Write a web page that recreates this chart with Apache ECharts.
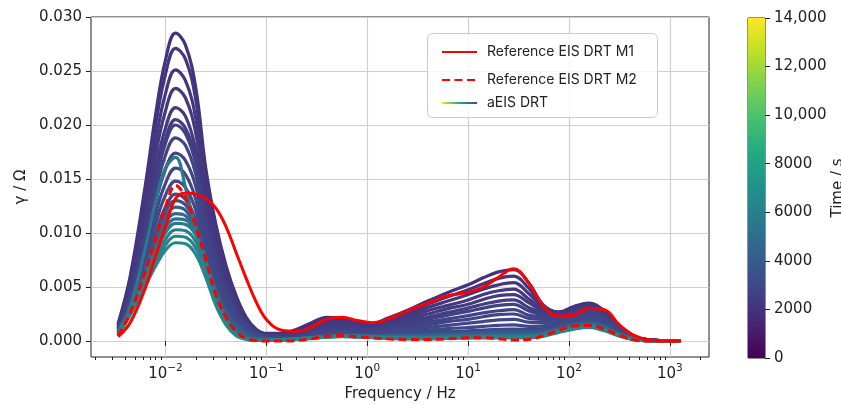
<!DOCTYPE html>
<html>
<head>
<meta charset="utf-8">
<script src="https://cdn.jsdelivr.net/npm/echarts@6/dist/echarts.min.js"></script>
<style>
  html, body { margin: 0; padding: 0; background: #fff; }
  #chart { width: 841px; height: 405px; }
</style>
</head>
<body>
<div id="chart"></div>
<script>
// frequency grid shared by every DRT curve (Hz)
const freq = [0.00339, 0.00447, 0.00631, 0.00794, 0.01, 0.0126, 0.0158, 0.02, 0.0251, 0.0316,
  0.0398, 0.0501, 0.0631, 0.0794, 0.1, 0.141, 0.2, 0.282, 0.398, 0.562,
  0.794, 1.12, 1.58, 2.51, 3.98, 6.31, 10, 14.1, 20, 28.2,
  39.8, 56.2, 79.4, 112, 158, 224, 316, 447, 631, 1000, 1290];

// reference curves, gamma in mOhm
const refM1 = [0.4, 1.7, 4.9, 7.8, 10.6, 13.2, 13.7, 13.6, 13.2, 12.3, 10.6, 8.2, 5.8, 3.6, 2.0, 1.0, 0.9, 1.3, 2.0, 2.2,
  1.9, 1.7, 2.0, 2.8, 3.5, 4.2, 4.5, 5.0, 5.9, 6.7, 5.4, 3.2, 2.3, 2.4, 3.0, 2.9, 1.5, 0.5, 0.1, 0, 0];
const refM2 = [0.5, 2.6, 6.4, 9.4, 12.4, 14.4, 13.3, 10.6, 7.5, 4.3, 2.2, 0.9, 0.25, 0.05, 0, 0, 0.05, 0.2, 0.45, 0.5,
  0.4, 0.3, 0.2, 0.15, 0.15, 0.2, 0.3, 0.3, 0.2, 0.1, 0.15, 0.5, 1.0, 1.4, 1.45, 1.1, 0.55, 0.1, 0, 0, 0];

// aEIS DRT curves: measurement time (s) and gamma (mOhm)
const aeisTimes = [2000, 2100, 2200, 2300, 2400, 2500, 2600, 2700, 2800, 2900, 3000, 3100,
  3500, 4100, 4700, 5200, 5600, 5800, 6000, 6200, 6400];
const aeisValues = [
  [1.6, 6.0, 14.4, 20.8, 26.0, 28.5, 27.4, 23.4, 16.0, 10.8, 7.0, 4.2, 2.2, 1.1, 0.7, 0.7, 1.1, 1.7, 2.2, 2.1, 1.8, 1.6,
    2.1, 2.85, 3.7, 4.5, 5.2, 5.85, 6.4, 6.6, 5.4, 3.3, 2.7, 3.2, 3.5, 2.8, 1.4, 0.4, 0.1, 0, 0],
  [1.5, 5.7, 13.7, 19.8, 24.7, 27.1, 26.1, 22.3, 15.2, 10.3, 6.7, 4.0, 2.1, 1.0, 0.65, 0.6, 0.95, 1.5, 2.0, 2.0, 1.7, 1.5,
    1.95, 2.6, 3.4, 4.1, 4.75, 5.3, 5.8, 6.0, 4.9, 3.2, 2.65, 3.1, 3.4, 2.7, 1.35, 0.4, 0.1, 0, 0],
  [1.4, 5.3, 12.7, 18.3, 22.9, 25.1, 24.1, 20.6, 14.1, 9.5, 6.2, 3.7, 1.9, 1.0, 0.6, 0.55, 0.85, 1.3, 1.75, 1.9, 1.6, 1.4,
    1.8, 2.4, 3.1, 3.7, 4.3, 4.8, 5.2, 5.4, 4.4, 3.1, 2.6, 3.0, 3.3, 2.65, 1.3, 0.4, 0.1, 0, 0],
  [1.3, 4.9, 11.8, 17.1, 21.3, 23.4, 22.5, 19.2, 13.1, 8.9, 5.7, 3.4, 1.8, 0.9, 0.55, 0.5, 0.75, 1.15, 1.55, 1.7, 1.5, 1.3,
    1.65, 2.2, 2.8, 3.3, 3.8, 4.3, 4.65, 4.8, 3.9, 2.9, 2.55, 2.9, 3.2, 2.55, 1.3, 0.4, 0.1, 0, 0],
  [1.2, 4.5, 10.9, 15.8, 19.7, 21.6, 20.8, 17.7, 12.1, 8.2, 5.3, 3.2, 1.7, 0.8, 0.5, 0.45, 0.65, 1.0, 1.35, 1.5, 1.35, 1.2,
    1.5, 2.0, 2.5, 3.0, 3.4, 3.85, 4.2, 4.3, 3.55, 2.75, 2.5, 2.85, 3.1, 2.5, 1.25, 0.37, 0.1, 0, 0],
  [1.2, 4.3, 10.4, 15.0, 18.7, 20.5, 19.7, 16.8, 11.5, 7.8, 5.0, 3.0, 1.6, 0.8, 0.5, 0.4, 0.6, 0.9, 1.2, 1.35, 1.25, 1.1,
    1.4, 1.8, 2.2, 2.65, 3.05, 3.4, 3.7, 3.8, 3.1, 2.6, 2.4, 2.75, 3.0, 2.4, 1.2, 0.36, 0.1, 0, 0],
  [1.1, 4.2, 10.1, 14.6, 18.3, 20.0, 19.2, 16.4, 11.2, 7.6, 4.9, 2.9, 1.5, 0.8, 0.45, 0.35, 0.5, 0.8, 1.05, 1.2, 1.15, 1.0,
    1.25, 1.6, 2.0, 2.4, 2.75, 3.05, 3.3, 3.4, 2.8, 2.4, 2.3, 2.65, 2.9, 2.3, 1.15, 0.35, 0.1, 0, 0],
  [1.1, 4.0, 9.5, 13.7, 17.2, 18.8, 18.1, 15.4, 10.6, 7.1, 4.6, 2.8, 1.5, 0.7, 0.45, 0.3, 0.45, 0.7, 0.95, 1.05, 1.0, 0.9,
    1.1, 1.4, 1.75, 2.05, 2.35, 2.6, 2.8, 2.9, 2.4, 2.2, 2.2, 2.55, 2.8, 2.25, 1.1, 0.34, 0.08, 0, 0],
  [1.0, 3.7, 8.8, 12.7, 15.9, 17.4, 16.7, 14.3, 9.8, 6.6, 4.3, 2.6, 1.3, 0.7, 0.4, 0.3, 0.4, 0.6, 0.8, 0.9, 0.9, 0.8,
    0.95, 1.2, 1.5, 1.8, 2.0, 2.25, 2.45, 2.5, 2.1, 2.0, 2.05, 2.4, 2.6, 2.1, 1.05, 0.3, 0.08, 0, 0],
  [0.9, 3.4, 8.1, 11.7, 14.6, 16.0, 15.4, 13.1, 9.0, 6.1, 3.9, 2.4, 1.2, 0.6, 0.35, 0.25, 0.35, 0.55, 0.7, 0.8, 0.8, 0.75,
    0.9, 1.05, 1.25, 1.45, 1.65, 1.8, 1.95, 2.0, 1.75, 1.7, 1.85, 2.2, 2.4, 1.9, 0.95, 0.3, 0.07, 0, 0],
  [0.8, 3.1, 7.5, 10.8, 13.5, 14.8, 14.2, 12.1, 8.3, 5.6, 3.6, 2.2, 1.1, 0.6, 0.3, 0.2, 0.3, 0.45, 0.6, 0.7, 0.7, 0.65,
    0.75, 0.85, 1.0, 1.15, 1.25, 1.35, 1.45, 1.5, 1.35, 1.4, 1.65, 2.0, 2.2, 1.75, 0.9, 0.27, 0.07, 0, 0],
  [0.8, 2.9, 6.9, 9.9, 12.4, 13.6, 13.1, 11.2, 7.6, 5.2, 3.3, 2.0, 1.0, 0.5, 0.3, 0.2, 0.25, 0.4, 0.5, 0.6, 0.6, 0.6,
    0.65, 0.72, 0.8, 0.9, 0.95, 1.02, 1.08, 1.1, 1.05, 1.15, 1.45, 1.8, 2.0, 1.6, 0.8, 0.25, 0.06, 0, 0],
  [0.75, 2.9, 6.8, 9.6, 12.0, 13.0, 12.6, 10.9, 7.6, 4.9, 2.9, 1.6, 0.8, 0.35, 0.25, 0.2, 0.25, 0.35, 0.45, 0.55, 0.55, 0.5,
    0.55, 0.6, 0.65, 0.7, 0.75, 0.8, 0.85, 0.85, 0.85, 0.95, 1.25, 1.6, 1.8, 1.45, 0.72, 0.22, 0.05, 0, 0],
  [0.7, 2.8, 6.5, 9.2, 11.5, 12.4, 12.1, 10.5, 7.5, 4.7, 2.6, 1.3, 0.6, 0.25, 0.2, 0.15, 0.2, 0.3, 0.4, 0.5, 0.5, 0.45,
    0.5, 0.5, 0.55, 0.6, 0.65, 0.65, 0.7, 0.7, 0.7, 0.8, 1.15, 1.5, 1.7, 1.35, 0.68, 0.2, 0.05, 0, 0],
  [0.65, 2.8, 6.3, 8.8, 11.0, 11.8, 11.6, 10.2, 7.5, 4.5, 2.3, 1.0, 0.4, 0.15, 0.1, 0.15, 0.2, 0.3, 0.4, 0.45, 0.45, 0.4,
    0.4, 0.4, 0.45, 0.5, 0.5, 0.55, 0.55, 0.55, 0.55, 0.7, 1.05, 1.4, 1.55, 1.25, 0.62, 0.18, 0.04, 0, 0],
  [0.6, 2.7, 6.1, 8.5, 10.5, 11.3, 11.2, 10.0, 7.4, 4.3, 2.1, 0.85, 0.3, 0.1, 0.05, 0.1, 0.2, 0.3, 0.4, 0.45, 0.4, 0.4,
    0.35, 0.35, 0.35, 0.4, 0.4, 0.45, 0.45, 0.45, 0.45, 0.6, 1.0, 1.3, 1.45, 1.15, 0.58, 0.16, 0.04, 0, 0],
  [0.9, 3.2, 8.6, 12.8, 16.0, 17.0, 14.2, 10.3, 6.3, 3.6, 1.9, 0.8, 0.25, 0.1, 0.05, 0.1, 0.2, 0.3, 0.4, 0.5, 0.45, 0.4,
    0.35, 0.3, 0.3, 0.35, 0.4, 0.4, 0.45, 0.45, 0.45, 0.6, 1.0, 1.3, 1.45, 1.1, 0.55, 0.15, 0.03, 0, 0],
  [0.55, 2.7, 6.0, 8.2, 10.0, 10.9, 10.8, 9.8, 7.4, 4.2, 2.0, 0.75, 0.25, 0.05, 0.05, 0.1, 0.2, 0.3, 0.4, 0.5, 0.45, 0.4,
    0.35, 0.3, 0.3, 0.35, 0.35, 0.4, 0.4, 0.4, 0.4, 0.55, 0.95, 1.25, 1.4, 1.1, 0.55, 0.15, 0.03, 0, 0],
  [0.55, 2.6, 5.7, 7.7, 9.4, 10.3, 10.2, 9.2, 6.9, 3.9, 1.8, 0.7, 0.2, 0.05, 0.05, 0.1, 0.15, 0.3, 0.4, 0.45, 0.4, 0.35,
    0.3, 0.3, 0.3, 0.3, 0.35, 0.35, 0.4, 0.4, 0.4, 0.55, 0.9, 1.2, 1.35, 1.05, 0.5, 0.14, 0.03, 0, 0],
  [0.5, 2.5, 5.4, 7.3, 8.9, 9.7, 9.6, 8.6, 6.4, 3.6, 1.7, 0.6, 0.2, 0.05, 0.05, 0.1, 0.15, 0.25, 0.35, 0.45, 0.4, 0.35,
    0.3, 0.25, 0.25, 0.3, 0.3, 0.35, 0.35, 0.35, 0.35, 0.5, 0.85, 1.15, 1.3, 1.0, 0.5, 0.13, 0.03, 0, 0],
  [0.5, 2.4, 5.1, 6.9, 8.4, 9.1, 9.0, 8.0, 5.9, 3.3, 1.5, 0.5, 0.15, 0.05, 0.05, 0.1, 0.15, 0.25, 0.35, 0.4, 0.35, 0.3,
    0.25, 0.2, 0.2, 0.25, 0.3, 0.3, 0.3, 0.3, 0.3, 0.45, 0.8, 1.1, 1.25, 0.95, 0.45, 0.12, 0.03, 0, 0]
];

// axes
const xMin = 0.001828, xMax = 2443;
const majorFreq = [0.01, 0.1, 1, 10, 100, 1000];
const minorFreq = [0.002, 0.003, 0.004, 0.005, 0.006, 0.007, 0.008, 0.009,
  0.02, 0.03, 0.04, 0.05, 0.06, 0.07, 0.08, 0.09,
  0.2, 0.3, 0.4, 0.5, 0.6, 0.7, 0.8, 0.9,
  2, 3, 4, 5, 6, 7, 8, 9,
  20, 30, 40, 50, 60, 70, 80, 90,
  200, 300, 400, 500, 600, 700, 800, 900, 2000];
const yMin = -0.00148, yMax = 0.030;
const yTicks = [0, 0.005, 0.010, 0.015, 0.020, 0.025, 0.030];
const timeMax = 14000;

const viridisStops = ['#440154', '#482475', '#414487', '#355f8d', '#2a788e', '#21918c',
  '#22a884', '#44bf70', '#7ad151', '#bddf26', '#fde725'];

function hexRgb(h) {
  return [1, 3, 5].map(i => parseInt(h.substr(i, 2), 16));
}
function viridis(u) {
  const p = Math.max(0, Math.min(1, u)) * 10;
  const i = Math.min(9, Math.floor(p)), f = p - i;
  const a = hexRgb(viridisStops[i]), b = hexRgb(viridisStops[i + 1]);
  return 'rgb(' + a.map((c, j) => Math.round(c + (b[j] - c) * f)).join(',') + ')';
}

const chart = echarts.init(document.getElementById('chart'));
const toPairs = vals => freq.map((f, i) => [f, vals[i] / 1000]);
const axisColor = '#222';
const gridColor = '#cfcfcf';

const series = [];
aeisValues.forEach((vals, k) => {
  const c = viridis(aeisTimes[k] / timeMax);
  series.push({
    name: 't' + aeisTimes[k],
    type: 'line',
    smooth: 0.4,
    symbol: 'none',
    silent: true,
    color: c,
    lineStyle: { width: 3.2, color: c },
    data: toPairs(vals)
  });
});
// legend-only entry with the gradient icon
const legendGradient = new echarts.graphic.LinearGradient(0, 0, 1, 0,
  viridisStops.slice(2).reverse().map((c, i, arr) => ({ offset: i / (arr.length - 1), color: c })));
series.push({
  name: 'aEIS DRT',
  type: 'line',
  symbol: 'none',
  data: [],
  color: '#414487',
  lineStyle: { width: 2, color: legendGradient }
});
series.push({
  name: 'Reference EIS DRT M2',
  type: 'line',
  smooth: 0.4,
  symbol: 'none',
  silent: true,
  color: '#ff0000',
  lineStyle: { width: 3, color: '#ff0000', type: [8, 4.5] },
  data: toPairs(refM2)
});
series.push({
  name: 'Reference EIS DRT M1',
  type: 'line',
  smooth: 0.4,
  symbol: 'none',
  silent: true,
  color: '#ff0000',
  lineStyle: { width: 3, color: '#ff0000' },
  data: toPairs(refM1)
});
// colour bar
series.push({
  type: 'bar',
  xAxisIndex: 1,
  yAxisIndex: 1,
  barWidth: '100%',
  silent: true,
  itemStyle: {
    color: new echarts.graphic.LinearGradient(0, 1, 0, 0,
      viridisStops.map((c, i) => ({ offset: i / 10, color: c })))
  },
  data: [timeMax]
});

const legendText = { fontFamily: 'Inter', fontSize: 14, color: '#222', padding: [0, 0, 0, 5] };
function legendAt(name, top) {
  return {
    data: [name], left: 441, top: top, itemWidth: 35, itemHeight: 14,
    padding: 0, selectedMode: false, textStyle: legendText,
    itemStyle: { opacity: 0 }
  };
}

const option = {
  animation: false,
  backgroundColor: '#fff',
  textStyle: { fontFamily: 'DejaVu Sans' },
  grid: [
    { left: 91, top: 17, width: 618, height: 340, show: true, borderColor: axisColor, borderWidth: 1,
      outerBoundsMode: 'none', containLabel: false },
    { left: 748, top: 18, width: 17, height: 340, show: true, borderColor: axisColor, borderWidth: 1,
      outerBoundsMode: 'none', containLabel: false }
  ],
  legend: [
    legendAt('Reference EIS DRT M1', 45),
    legendAt('Reference EIS DRT M2', 73),
    legendAt('aEIS DRT', 96)
  ],
  graphic: [{
    type: 'rect', left: 427, top: 33, z: 3, silent: true,
    shape: { width: 230, height: 84, r: 5 },
    style: { fill: 'rgba(255,255,255,0.8)', stroke: '#cccccc', lineWidth: 1 }
  }],
  xAxis: [
    {
      type: 'log', gridIndex: 0, logBase: 10, min: xMin, max: xMax,
      axisLine: { show: false },
      axisTick: { customValues: majorFreq, length: 5, lineStyle: { color: axisColor } },
      axisLabel: {
        margin: 6,
        color: axisColor,
        formatter: function (v) {
          const l = Math.log10(v), e = Math.round(l);
          if (Math.abs(l - e) > 1e-6) return '';
          return '{b|10}{s|' + (e < 0 ? '\u2212' + (-e) : e) + '}';
        },
        rich: {
          b: { fontSize: 15, fontFamily: 'DejaVu Sans', color: axisColor },
          s: { fontSize: 10.5, fontFamily: 'DejaVu Sans', color: axisColor, padding: [0, 0, 12, 0] }
        }
      },
      splitLine: { show: true, lineStyle: { color: gridColor, width: 1.2 } },
      name: 'Frequency / Hz', nameLocation: 'middle', nameGap: 29,
      nameTextStyle: { fontSize: 15, color: axisColor }
    },
    {
      type: 'category', gridIndex: 1, data: ['time'], show: false
    },
    {
      type: 'log', gridIndex: 0, logBase: 10, min: xMin, max: xMax, position: 'bottom',
      axisLine: { show: false }, axisLabel: { show: false }, splitLine: { show: false },
      axisTick: { customValues: minorFreq, length: 3, lineStyle: { color: axisColor } }
    }
  ],
  yAxis: [
    {
      type: 'value', gridIndex: 0, min: yMin, max: yMax,
      axisLine: { show: false },
      axisTick: { customValues: yTicks, length: 5, lineStyle: { color: axisColor } },
      axisLabel: { customValues: yTicks, margin: 9, fontSize: 15, color: axisColor,
        formatter: v => v.toFixed(3) },
      splitLine: { show: true, lineStyle: { color: gridColor, width: 1.2 } },
      name: '\u03b3 / \u03a9', nameLocation: 'middle', nameGap: 60, nameRotate: 90,
      nameTextStyle: { fontSize: 15, color: axisColor }
    },
    {
      type: 'value', gridIndex: 1, min: 0, max: timeMax, interval: 2000, position: 'right',
      axisLine: { show: false },
      axisTick: { show: true, length: 5, lineStyle: { color: axisColor } },
      axisLabel: { margin: 9, fontSize: 15, color: axisColor,
        formatter: v => v >= 10000 ? String(v).replace(/\B(?=(\d{3})+(?!\d))/g, ',') : String(v) },
      splitLine: { show: false },
      name: 'Time / s', nameLocation: 'middle', nameGap: 64, nameRotate: 90,
      nameTextStyle: { fontSize: 15, color: axisColor }
    }
  ],
  series: series
};

chart.setOption(option);
</script>
</body>
</html>
